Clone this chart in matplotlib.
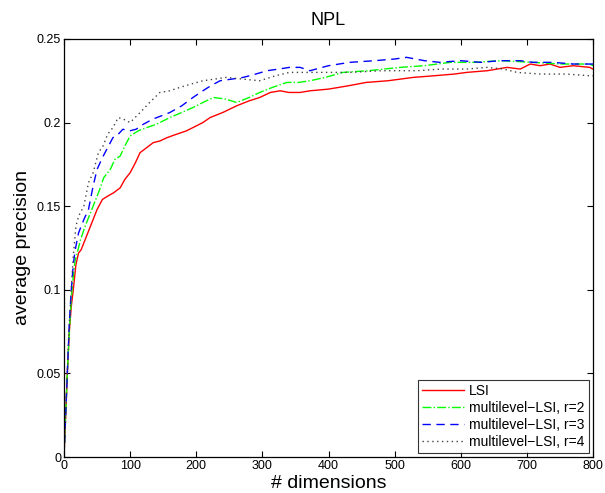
import matplotlib
matplotlib.use("Agg")
import matplotlib.pyplot as plt

plt.rcParams['font.family'] = ['Liberation Sans', 'DejaVu Sans']

# LSI (red)
lsi_x = [0, 3, 5, 8, 11, 14, 18, 22, 26, 30, 36, 42, 50, 58, 66, 75, 85, 92, 100, 108, 115, 125, 135, 145, 156, 170, 185, 195, 210, 221, 240, 261, 280, 296, 312, 327, 340, 357, 372, 400, 430, 457, 490, 528, 560, 590, 609, 640, 670, 690, 705, 720, 735, 750, 770, 795, 800]
lsi_y = [0.0, 0.03, 0.05, 0.075, 0.09, 0.10, 0.115, 0.122, 0.124, 0.128, 0.134, 0.140, 0.148, 0.154, 0.156, 0.158, 0.161, 0.166, 0.170, 0.176, 0.182, 0.185, 0.188, 0.189, 0.191, 0.193, 0.195, 0.197, 0.200, 0.203, 0.206, 0.210, 0.213, 0.215, 0.218, 0.219, 0.218, 0.218, 0.219, 0.220, 0.222, 0.224, 0.225, 0.227, 0.228, 0.229, 0.230, 0.231, 0.233, 0.232, 0.235, 0.234, 0.235, 0.233, 0.234, 0.233, 0.232]

# multilevel-LSI, r=2 (green)
r2_x = [0, 3, 5, 8, 11, 14, 17, 20, 25, 32, 40, 48, 54, 60, 70, 77, 85, 92, 100, 112, 125, 140, 160, 178, 195, 210, 226, 245, 261, 280, 296, 315, 337, 355, 372, 395, 422, 460, 508, 545, 584, 620, 660, 709, 750, 795, 800]
r2_y = [0.0, 0.03, 0.05, 0.075, 0.095, 0.108, 0.118, 0.122, 0.130, 0.138, 0.146, 0.154, 0.160, 0.167, 0.172, 0.178, 0.180, 0.186, 0.192, 0.195, 0.197, 0.199, 0.203, 0.206, 0.209, 0.212, 0.215, 0.214, 0.212, 0.215, 0.218, 0.221, 0.224, 0.224, 0.225, 0.227, 0.230, 0.231, 0.233, 0.234, 0.236, 0.236, 0.237, 0.236, 0.235, 0.235, 0.234]

# multilevel-LSI, r=3 (blue)
r3_x = [0, 3, 5, 8, 11, 14, 17, 22, 30, 37, 44, 50, 58, 66, 74, 82, 89, 99, 109, 120, 134, 147, 160, 178, 195, 210, 222, 236, 254, 271, 290, 307, 325, 341, 357, 372, 400, 432, 470, 500, 518, 545, 568, 600, 630, 659, 690, 709, 740, 770, 795, 800]
r3_y = [0.0, 0.03, 0.05, 0.08, 0.10, 0.115, 0.124, 0.134, 0.142, 0.148, 0.162, 0.172, 0.179, 0.185, 0.191, 0.193, 0.196, 0.195, 0.196, 0.199, 0.202, 0.204, 0.206, 0.210, 0.215, 0.219, 0.222, 0.225, 0.226, 0.227, 0.229, 0.231, 0.232, 0.233, 0.233, 0.231, 0.234, 0.236, 0.237, 0.238, 0.239, 0.237, 0.236, 0.237, 0.236, 0.237, 0.237, 0.236, 0.236, 0.235, 0.235, 0.235]

# multilevel-LSI, r=4 (dotted)
r4_x = [0, 3, 5, 8, 11, 14, 18, 22, 30, 37, 44, 52, 59, 66, 74, 82, 90, 100, 110, 120, 132, 145, 160, 175, 192, 210, 228, 245, 270, 296, 320, 341, 357, 380, 432, 480, 534, 570, 609, 640, 665, 685, 720, 760, 795, 800]
r4_y = [0.0, 0.03, 0.05, 0.08, 0.10, 0.12, 0.138, 0.144, 0.150, 0.164, 0.170, 0.182, 0.186, 0.193, 0.197, 0.203, 0.202, 0.200, 0.204, 0.208, 0.213, 0.218, 0.219, 0.221, 0.223, 0.225, 0.226, 0.227, 0.226, 0.225, 0.228, 0.230, 0.230, 0.230, 0.230, 0.231, 0.231, 0.232, 0.232, 0.233, 0.232, 0.230, 0.229, 0.229, 0.228, 0.228]

series_labels = ['LSI', 'multilevel\u2212LSI, r=2', 'multilevel\u2212LSI, r=3', 'multilevel\u2212LSI, r=4']
x_ticks = [0, 100, 200, 300, 400, 500, 600, 700, 800]
y_ticks = [0, 0.05, 0.1, 0.15, 0.2, 0.25]
y_tick_labels = ['0', '0.05', '0.1', '0.15', '0.2', '0.25']

fig = plt.figure(figsize=(6.05, 4.93), dpi=100)
ax = fig.add_axes([0.1058, 0.073, 0.8744, 0.848])

ax.plot(lsi_x, lsi_y, color='red', linestyle='-', linewidth=1.0, label=series_labels[0])
ax.plot(r2_x, r2_y, color=(0, 1, 0), linestyle='-.', linewidth=1.0, label=series_labels[1])
ax.plot(r3_x, r3_y, color=(0, 0, 1), linestyle=(0, (6, 4)), linewidth=1.0, label=series_labels[2])
ax.plot(r4_x, r4_y, color='#444444', linestyle=(0, (1, 2.5)), linewidth=1.0, label=series_labels[3])

ax.set_xlim(0, 800)
ax.set_ylim(0, 0.25)
ax.set_xticks(x_ticks)
ax.set_xticklabels([str(v) for v in x_ticks])
ax.set_yticks(y_ticks)
ax.set_yticklabels(y_tick_labels)
ax.tick_params(direction='in', top=True, right=True, length=4, width=0.8, labelsize=9, pad=2)
for s in ax.spines.values():
    s.set_linewidth(0.9)

ax.set_xlabel('# dimensions', fontsize=14, labelpad=2.5)
ax.set_ylabel('average precision', fontsize=14, labelpad=4)
ax.set_title('NPL', fontsize=13, pad=10)

leg = ax.legend(loc='lower right', fontsize=10, frameon=True, fancybox=False,
                edgecolor='black', borderaxespad=0.3, handlelength=3.0,
                labelspacing=0.2, borderpad=0.3, handletextpad=0.4)
leg.get_frame().set_linewidth(0.8)

fig.savefig('out.png', dpi=100)
